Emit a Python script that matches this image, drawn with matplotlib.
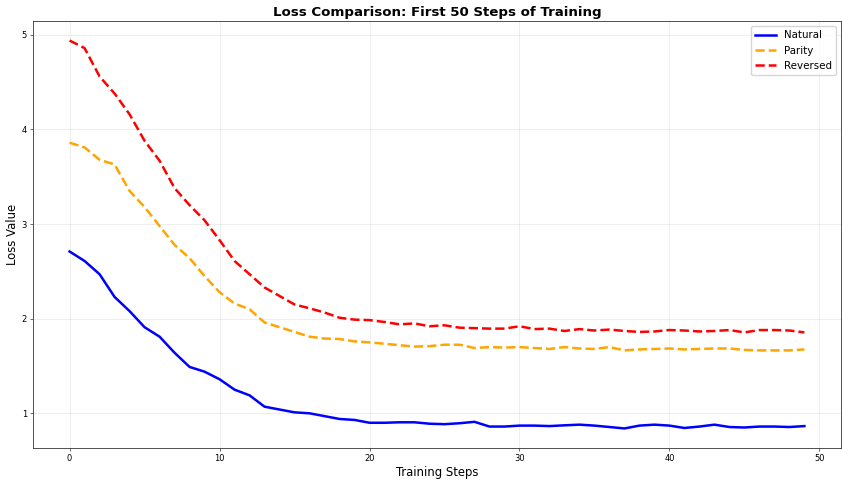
import matplotlib
matplotlib.use("Agg")
import matplotlib.pyplot as plt
import numpy as np

steps = list(range(50))
natural = [2.71, 2.61, 2.47, 2.23, 2.08, 1.91, 1.81, 1.64, 1.49, 1.44,
           1.36, 1.25, 1.19, 1.07, 1.04, 1.01, 1.00, 0.97, 0.94, 0.93,
           0.90, 0.90, 0.905, 0.905, 0.89, 0.885, 0.895, 0.91, 0.86, 0.86,
           0.87, 0.87, 0.865, 0.873, 0.88, 0.87, 0.855, 0.84, 0.87, 0.88,
           0.87, 0.845, 0.86, 0.88, 0.855, 0.85, 0.86, 0.86, 0.855, 0.865]
parity = [3.86, 3.81, 3.68, 3.63, 3.35, 3.18, 2.98, 2.78, 2.64, 2.45,
          2.28, 2.16, 2.10, 1.96, 1.91, 1.86, 1.81, 1.79, 1.785, 1.76,
          1.75, 1.735, 1.72, 1.705, 1.71, 1.725, 1.725, 1.69, 1.70, 1.695,
          1.70, 1.69, 1.68, 1.70, 1.685, 1.68, 1.70, 1.665, 1.675, 1.68,
          1.685, 1.675, 1.68, 1.685, 1.685, 1.67, 1.665, 1.665, 1.665, 1.675]
reversed_ = [4.94, 4.86, 4.56, 4.38, 4.16, 3.88, 3.67, 3.38, 3.20, 3.04,
             2.83, 2.61, 2.47, 2.33, 2.24, 2.15, 2.11, 2.065, 2.01, 1.99,
             1.985, 1.965, 1.94, 1.95, 1.92, 1.93, 1.905, 1.90, 1.895, 1.895,
             1.92, 1.89, 1.895, 1.87, 1.89, 1.875, 1.885, 1.87, 1.86, 1.865,
             1.88, 1.875, 1.865, 1.87, 1.88, 1.855, 1.88, 1.88, 1.875, 1.855]

fig = plt.figure(figsize=(8.42, 4.8), dpi=100)
ax = fig.add_axes([0.039, 0.067, 0.96, 0.889])
ax.plot(steps, natural, color="blue", lw=1.8, label="Natural")
ax.plot(steps, parity, color="orange", lw=1.8, ls="--", label="Parity")
ax.plot(steps, reversed_, color="red", lw=1.8, ls="--", label="Reversed")
ax.set_title("Loss Comparison: First 50 Steps of Training", fontsize=9.6,
             fontweight="bold", pad=3.5)
ax.set_xlabel("Training Steps", fontsize=8.4, labelpad=2.2)
ax.set_ylabel("Loss Value", fontsize=8.4, labelpad=2.2)
ax.tick_params(labelsize=6, length=2.1, width=0.5, pad=2.1, color="#333333")
for s in ax.spines.values():
    s.set_linewidth(0.6)
    s.set_color("#333333")
ax.grid(True, alpha=0.3, lw=0.5)
ax.legend(loc="upper right", fontsize=7.4)
fig.savefig("out.png", dpi=100)
